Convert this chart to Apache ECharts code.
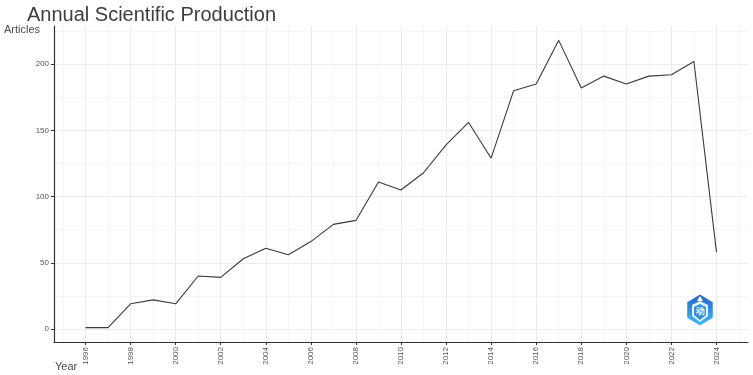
<!DOCTYPE html>
<html>
<head>
<meta charset="utf-8">
<script src="https://cdn.jsdelivr.net/npm/echarts@6/dist/echarts.min.js"></script>
<style>
html,body{margin:0;padding:0;background:#fff;}
#chart{width:753px;height:375px;}
</style>
</head>
<body>
<div id="chart"></div>
<script>
var years = [1996,1997,1998,1999,2000,2001,2002,2003,2004,2005,2006,2007,2008,2009,2010,2011,2012,2013,2014,2015,2016,2017,2018,2019,2020,2021,2022,2023,2024];
var articles = [1,1,19,22,19,40,39,53,61,56,66,79,82,111,105,118,139,156,129,180,185,218,182,191,185,191,192,202,58];
var xTicks = [1996,1998,2000,2002,2004,2006,2008,2010,2012,2014,2016,2018,2020,2022,2024];
var xMinor = [1995,1997,1999,2001,2003,2005,2007,2009,2011,2013,2015,2017,2019,2021,2023,2025];
var yTicks = [0,50,100,150,200];
var yMinor = [25,75,125,175,225];

var xMin = 1994.6, xMax = 2025.4;
var yMin = -9.85, yMax = 228.85;

var chart = echarts.init(document.getElementById('chart'), null, {renderer:'canvas'});
var fontFam = '"Liberation Sans", Arial, sans-serif';

var hex = [];
(function(){
  var cx = 700, cy = 310, r = 15.5;
  for (var i = 0; i < 6; i++) {
    var a = Math.PI/180*(60*i - 90);
    hex.push([cx + r*Math.cos(a)*0.95, cy + r*Math.sin(a)]);
  }
})();

chart.setOption({
  animation:false,
  backgroundColor:'#fff',
  title:{
    text:'Annual Scientific Production',
    left:22, top:0,
    textStyle:{fontFamily:fontFam, fontSize:20, fontWeight:'normal', color:'#3d3d3d'}
  },
  grid:{left:54, right:5, top:26, bottom:33, containLabel:false},
  xAxis:[{
    type:'value', min:xMin, max:xMax,
    axisLine:{show:true, onZero:false, lineStyle:{color:'#333', width:1.2}},
    axisTick:{show:true, length:3, lineStyle:{color:'#333'}, customValues:xTicks},
    axisLabel:{rotate:90, fontFamily:fontFam, fontSize:8, color:'#555', margin:5, customValues:xTicks,
      formatter:function(v){return String(v);}},
    splitLine:{show:true, lineStyle:{color:'#ebebeb', width:1}}
  },{
    type:'value', min:xMin, max:xMax, position:'bottom',
    axisLine:{show:false}, axisLabel:{show:false},
    axisTick:{show:false, customValues:xMinor},
    splitLine:{show:true, lineStyle:{color:'#f5f5f5', width:1}}
  }],
  yAxis:[{
    type:'value', min:yMin, max:yMax,
    axisLine:{show:true, onZero:false, lineStyle:{color:'#333', width:1.2}},
    axisTick:{show:true, length:3, lineStyle:{color:'#333'}, customValues:yTicks},
    axisLabel:{fontFamily:fontFam, fontSize:8, color:'#555', margin:5, customValues:yTicks},
    splitLine:{show:true, lineStyle:{color:'#ebebeb', width:1}}
  },{
    type:'value', min:yMin, max:yMax, position:'left',
    axisLine:{show:false}, axisLabel:{show:false},
    axisTick:{show:false, customValues:yMinor},
    splitLine:{show:true, lineStyle:{color:'#f5f5f5', width:1}}
  }],
  series:[{
    type:'line',
    xAxisIndex:0, yAxisIndex:0,
    data: years.map(function(y,i){return [y, articles[i]];}),
    showSymbol:false,
    lineStyle:{color:'#3a3a3a', width:1.1},
    z:5
  }],
  graphic:[
    {type:'text', style:{text:'Articles', x:4, y:30, fill:'#4d4d4d', fontFamily:fontFam, fontSize:11, verticalAlign:'middle'}},
    {type:'text', style:{text:'Year', x:55, y:367, fill:'#4d4d4d', fontFamily:fontFam, fontSize:11, verticalAlign:'middle'}},
    {type:'polygon', shape:{points:hex}, style:{fill:new echarts.graphic.LinearGradient(0,0,0,1,[{offset:0,color:'#2a62c9'},{offset:1,color:'#3bbcf5'}])}, z:10},
    {type:'polygon', shape:{points:[[692,305],[700,301],[708,305],[708,316],[700,322],[692,316]]}, style:{fill:'#ffffff', opacity:0.9}, z:11},
    {type:'polygon', shape:{points:[[694,307],[700,304],[706,307],[706,315],[700,320],[694,315]]}, style:{fill:'#2f8fe0'}, z:12},
    {type:'text', style:{text:'动', x:700, y:312, fill:'#ffffff', fontSize:9, fontWeight:'bold', align:'center', verticalAlign:'middle'}, z:13},
    {type:'polygon', shape:{points:[[697,301],[700,296],[703,301]]}, style:{fill:'#ffffff'}, z:13}
  ]
});
</script>
</body>
</html>
